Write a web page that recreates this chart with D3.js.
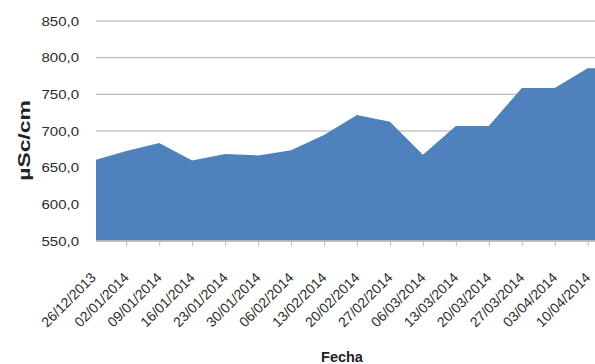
<!DOCTYPE html>
<html>
<head>
<meta charset="utf-8">
<script src="https://cdn.jsdelivr.net/npm/d3@7"></script>
<style>
  body { margin: 0; background: #fff; }
  text { font-family: "Liberation Sans", Arial, Helvetica, sans-serif; }
</style>
</head>
<body>
<div id="chart"></div>
<script>
// ---- data ----
const fechas = ['26/12/2013', '02/01/2014', '09/01/2014', '16/01/2014', '23/01/2014',
    '30/01/2014', '06/02/2014', '13/02/2014', '20/02/2014', '27/02/2014',
    '06/03/2014', '13/03/2014', '20/03/2014', '27/03/2014', '03/04/2014', '10/04/2014'];
const conductividad = [659, 672, 683, 659, 668, 666, 673, 694, 721, 712,
    667, 706, 706, 758, 758, 785];
const yTicks = [550, 600, 650, 700, 750, 800, 850];

const outerW = 595,
    outerH = 364;

// plot box; first/last category sit just outside the visible area
const plot = { left: 96, right: 595, top: 20.5, bottom: 240.5 };
const catRange = [93.3, 587.7];

const data = fechas.map((f, i) => ({ fecha: f, valor: conductividad[i] }));

const es = d3.formatLocale({ decimal: ',', thousands: '.', grouping: [3], currency: ['', '€'] });
const fmt = es.format('.1f');

const x = d3.scalePoint().domain(fechas).range(catRange);
const y = d3.scaleLinear().domain([550, 850]).range([plot.bottom, plot.top]);

const svg = d3.select('#chart').append('svg')
    .attr('width', outerW)
    .attr('height', outerH);

svg.append('clipPath').attr('id', 'plotClip')
  .append('rect')
    .attr('x', plot.left)
    .attr('y', 0)
    .attr('width', plot.right - plot.left)
    .attr('height', plot.bottom);

// gridlines
const yAxis = svg.append('g')
    .attr('class', 'y axis')
    .attr('transform', 'translate(' + plot.left + ',0)')
    .call(d3.axisLeft(y)
        .tickValues(yTicks)
        .tickSize(-(plot.right - plot.left))
        .tickSizeOuter(0)
        .tickPadding(17)
        .tickFormat(fmt)
    );

yAxis.select('.domain').remove();
yAxis.selectAll('.tick line')
    .attr('stroke', '#a9a9a9')
    .attr('stroke-width', 1);
yAxis.selectAll('.tick text')
    .attr('fill', '#2b2b2b')
    .attr('font-size', '13px')
    .attr('dy', '0.35em')
    .attr('textLength', 37.5)
    .attr('lengthAdjust', 'spacingAndGlyphs');

// area, held flat from the last week to the plot edge
const areaData = data.concat([{ fecha: null, valor: data[data.length - 1].valor }]);
const area = d3.area()
    .x(d => d.fecha === null ? plot.right : x(d.fecha))
    .y0(y(550))
    .y1(d => y(d.valor));

svg.append('path')
    .datum(areaData)
    .attr('clip-path', 'url(#plotClip)')
    .attr('fill', '#4f81bd')
    .attr('d', area);

// x axis
const xAxis = svg.append('g')
    .attr('class', 'x axis')
    .attr('transform', 'translate(0,' + plot.bottom + ')')
    .call(d3.axisBottom(x)
        .tickSize(6)
        .tickSizeOuter(0)
    );

xAxis.select('.domain')
    .attr('d', 'M' + plot.left + ',0.5H' + plot.right)
    .attr('stroke', '#a9a9a9');
xAxis.selectAll('.tick line')
    .attr('stroke', '#bdbdbd')
    .attr('y1', 1)
    .attr('visibility', d => x(d) < plot.left ? 'hidden' : 'visible');
xAxis.selectAll('.tick text')
    .attr('fill', '#2b2b2b')
    .attr('font-size', '14px')
    .attr('text-anchor', 'end')
    .attr('dy', null)
    .attr('y', null)
    .attr('transform', 'translate(3,38) rotate(-45)');

// axis titles
svg.append('text')
    .attr('transform', 'translate(29.5,' + ((plot.top + plot.bottom) / 2 + 10) + ') rotate(-90)')
    .attr('text-anchor', 'middle')
    .attr('font-size', '17px')
    .attr('font-weight', 'bold')
    .attr('fill', '#222')
    .attr('textLength', 80.5)
    .attr('lengthAdjust', 'spacingAndGlyphs')
    .text('µSc/cm');

svg.append('text')
    .attr('x', (catRange[0] + catRange[1]) / 2 + 1.5)
    .attr('y', 361.5)
    .attr('text-anchor', 'middle')
    .attr('font-size', '14.5px')
    .attr('font-weight', 'bold')
    .attr('fill', '#222')
    .text('Fecha');
</script>
</body>
</html>
